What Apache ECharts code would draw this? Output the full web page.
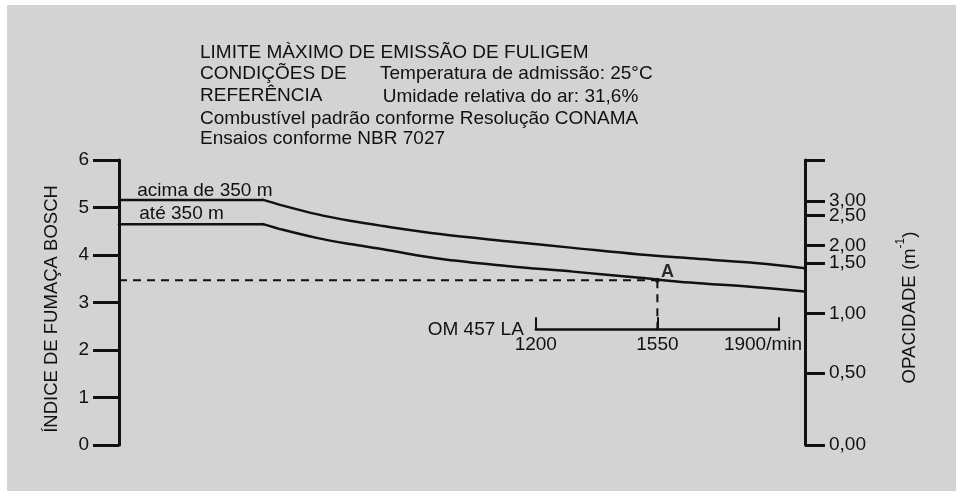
<!DOCTYPE html>
<html>
<head>
<meta charset="utf-8">
<script src="https://cdn.jsdelivr.net/npm/echarts@6/dist/echarts.min.js"></script>
<style>
  html, body { margin: 0; padding: 0; background: #ffffff; }
  #panel { position: absolute; left: 7px; top: 5px; width: 949px; height: 486px; background: #d3d3d3; }
  #chart { position: absolute; left: 0; top: 0; width: 956px; height: 491px; }
</style>
</head>
<body>
<div id="panel"></div>
<div id="chart"></div>
<script>
// Rotação do motor (/min) nos pontos das curvas-limite
const rpm = [0, 415, 472, 569, 665, 760, 924, 1116, 1307, 1500, 1644, 1817, 1975];
// Índice de fumaça Bosch máximo — altitude acima de 350 m
const limiteAcima350 = [5.16, 5.16, 5.04, 4.86, 4.72, 4.61, 4.44, 4.29, 4.15, 4.01, 3.93, 3.84, 3.72];
// Índice de fumaça Bosch máximo — altitude até 350 m
const limiteAte350 = [4.65, 4.65, 4.53, 4.36, 4.23, 4.12, 3.92, 3.77, 3.65, 3.52, 3.42, 3.33, 3.23];
// Índice em que termina o patamar horizontal das curvas
const fimPatamar = 1;
// Ponto A (OM 457 LA a 1550/min)
const pontoA = [1550, 3.47];
// Nível (índice Bosch) onde fica a escala de rotação do OM 457 LA
const nivelEscalaRotacao = 2.44;
// Escala de opacidade (m^-1) e posição equivalente no índice Bosch
const opacidadeLabels = ['0,00', '0,50', '1,00', '1,50', '2,00', '2,50', '3,00'];
const opacidadeBosch = [0, 1.52, 2.77, 3.83, 4.20, 4.83, 5.14];
// Escala de rotação do OM 457 LA
const rotacaoTicks = [1200, 1550, 1900];

const FONT = '"Liberation Sans", Arial, Helvetica, sans-serif';
const INK = '#111111';
const FS = 19;

const chart = echarts.init(document.getElementById('chart'), null, { renderer: 'canvas' });

const txt = (text, x, y, extra) => ({
  type: 'text', x: x, y: y, silent: true,
  style: Object.assign({ text: text, fontSize: FS, fontFamily: FONT, fill: INK, verticalAlign: 'middle', align: 'left' }, extra || {})
});

const pares = (ys) => rpm.map((r, i) => [r, ys[i]]);
const curveLine = (data, smooth) => ({
  type: 'line', xAxisIndex: 0, yAxisIndex: 0, data: data,
  showSymbol: false, symbol: 'none', smooth: smooth,
  lineStyle: { color: INK, width: 2.5, cap: 'round', join: 'round' }, z: 3
});

// Rótulos de opacidade: os muito próximos (2,50 e 3,00) ficam em eixos sobrepostos distintos
const opacidadeFormatter = v => {
  const i = opacidadeBosch.findIndex(b => Math.abs(b - v) < 1e-6);
  return i >= 0 ? opacidadeLabels[i] : '';
};
const opacidadeLabelAxis = (values, withLine) => ({
  type: 'value', gridIndex: 0, min: 0, max: 6, position: 'right', offset: 0,
  axisLine: { show: withLine, lineStyle: { color: INK, width: 3 } },
  axisTick: { show: withLine, inside: false, length: 20, customValues: opacidadeBosch.concat([6]), lineStyle: { color: INK, width: 3 } },
  splitLine: { show: false },
  axisLabel: {
    margin: 24, fontSize: FS, color: INK, fontFamily: FONT,
    hideOverlap: false, showMinLabel: true, showMaxLabel: true,
    customValues: values, formatter: opacidadeFormatter
  }
});

const eixoOpacidade = opacidadeLabelAxis(opacidadeBosch.filter((b, i) => i !== 5), true);
Object.assign(eixoOpacidade, {
  name: 'OPACIDADE (m{s|-1})', nameLocation: 'middle', nameRotate: 90, nameGap: 90, nameMoveOverlap: false,
  nameTextStyle: {
    fontSize: 18.6, color: INK, fontFamily: FONT, lineHeight: 30, padding: [0, 10, 0, 0],
    rich: { s: { fontSize: 12, lineHeight: 12, verticalAlign: 'top', color: INK, fontFamily: FONT } }
  }
});
const eixoOpacidadeExtra = opacidadeLabelAxis([opacidadeBosch[5]], false);

const option = {
  animation: false,
  backgroundColor: 'transparent',
  textStyle: { fontFamily: FONT, color: INK },
  grid: [
    { left: 119, right: 151, top: 160, bottom: 46 },
    { left: 535.8, width: 243.2, top: 300, bottom: 491 - 329.3 }
  ],
  xAxis: [
    { type: 'value', gridIndex: 0, min: 0, max: 1975, show: false },
    {
      type: 'value', gridIndex: 1, min: rotacaoTicks[0], max: rotacaoTicks[2], interval: 350,
      position: 'bottom',
      name: 'OM 457 LA', nameLocation: 'start', nameGap: 12, nameMoveOverlap: false,
      nameTextStyle: { fontSize: FS, color: INK, fontFamily: FONT, padding: [0, 0, 13, 0], verticalAlign: 'middle' },
      axisLine: { show: true, lineStyle: { color: INK, width: 2.5 } },
      axisTick: { show: true, inside: true, length: 12, lineStyle: { color: INK, width: 2 } },
      splitLine: { show: false },
      axisLabel: {
        margin: 6, fontSize: FS, color: INK, fontFamily: FONT, showMinLabel: true, showMaxLabel: true,
        formatter: v => v === rotacaoTicks[2] ? '{e|' + v + '/min}' : String(v),
        rich: { e: { fontSize: FS, color: INK, fontFamily: FONT, padding: [0, 32, 0, 0] } }
      }
    }
  ],
  yAxis: [
    {
      type: 'value', gridIndex: 0, min: 0, max: 6, interval: 1, position: 'left',
      name: 'ÍNDICE DE FUMAÇA BOSCH', nameLocation: 'middle', nameRotate: 90, nameGap: 58, nameMoveOverlap: false,
      nameTextStyle: { fontSize: 18.5, color: INK, fontFamily: FONT, padding: [0, 13, 0, 0] },
      axisLine: { show: true, lineStyle: { color: INK, width: 3 } },
      axisTick: { show: true, inside: false, length: 26, lineStyle: { color: INK, width: 3 } },
      splitLine: { show: false },
      axisLabel: { margin: 30, fontSize: FS, color: INK, fontFamily: FONT, showMinLabel: true, showMaxLabel: true }
    },
    eixoOpacidade,
    { type: 'value', gridIndex: 1, min: 0, max: 1, show: false },
    eixoOpacidadeExtra
  ],
  series: [
    // patamar horizontal + trecho decrescente (suavizado) de cada curva-limite
    curveLine(pares(limiteAcima350).slice(0, fimPatamar + 1), false),
    curveLine(pares(limiteAcima350).slice(fimPatamar), 0.35),
    curveLine(pares(limiteAte350).slice(0, fimPatamar + 1), false),
    curveLine(pares(limiteAte350).slice(fimPatamar), 0.35),
    {
      type: 'line', xAxisIndex: 0, yAxisIndex: 0, symbol: 'none',
      data: [[0, pontoA[1]], pontoA],
      lineStyle: { color: INK, width: 2, type: [8, 6] }, z: 2
    },
    {
      type: 'line', xAxisIndex: 0, yAxisIndex: 0, symbol: 'none',
      data: [pontoA, [pontoA[0], nivelEscalaRotacao]],
      lineStyle: { color: INK, width: 2, type: [8, 6] }, z: 2
    },
    {
      type: 'scatter', xAxisIndex: 0, yAxisIndex: 0,
      data: [pontoA], symbolSize: 5, itemStyle: { color: INK }, z: 4,
      label: { show: true, formatter: 'A', position: 'right', distance: 1, offset: [0, -8], fontSize: 18, fontWeight: 'bold', color: '#000000', fontFamily: FONT }
    }
  ],
  graphic: [
    txt('LIMITE MÀXIMO DE EMISSÃO DE FULIGEM', 200, 52.5),
    txt('CONDIÇÕES DE', 200, 73.7),
    txt('Temperatura de admissão: 25°C', 380, 73.7),
    txt('REFERÊNCIA', 200, 95.5),
    txt('Umidade relativa do ar: 31,6%', 382.7, 96.3),
    txt('Combustível padrão conforme Resolução CONAMA', 200, 118.8),
    txt('Ensaios conforme NBR 7027', 200, 138.8),
    txt('acima de 350 m', 137.3, 190.8),
    txt('até 350 m', 139.3, 214.2)
  ]
};

chart.setOption(option);
</script>
</body>
</html>
